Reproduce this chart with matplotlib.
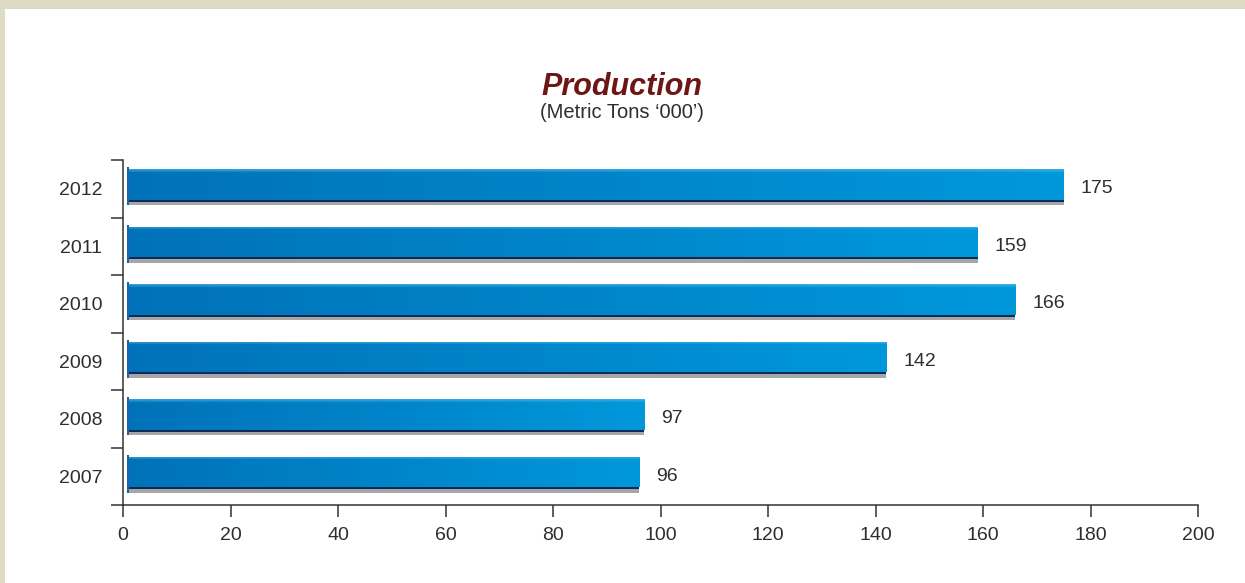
"""
Production bar chart (Metric Tons '000').
"""

import numpy as np
import matplotlib
matplotlib.use("Agg")
import matplotlib.pyplot as plt
import matplotlib.patches as mpatches
from matplotlib.colors import to_rgb

years = ["2007", "2008", "2009", "2010", "2011", "2012"]
production = [96, 97, 142, 166, 159, 175]
xticks = [0, 20, 40, 60, 80, 100, 120, 140, 160, 180, 200]

plt.rcParams["font.family"] = ["Liberation Sans", "DejaVu Sans"]

TEXT = "#2e2e2e"
AXIS = "#333333"

fig = plt.figure(figsize=(12.45, 5.83), dpi=100, facecolor="#dedbc4")
# white panel inside the beige frame
fig.patches.append(mpatches.Rectangle((5 / 1245, 0), 1, 1 - 9 / 583,
                                      transform=fig.transFigure, facecolor="white",
                                      edgecolor="none", zorder=-5))

ax = fig.add_axes([123 / 1245, 78 / 583, 1075 / 1245, 345 / 583])
ax.set_facecolor("none")
ax.set_zorder(2)


def bar_image(n_rows=40, n_cols=256):
    left = np.array(to_rgb("#0072b9"))
    mid = np.array(to_rgb("#0084c9"))
    right = np.array(to_rgb("#0098db"))
    t = np.linspace(0, 1, n_cols)[:, None]
    row = np.where(t < 0.5, left + (mid - left) * (t / 0.5), mid + (right - mid) * ((t - 0.5) / 0.5))
    img = np.repeat(row[None, :, :], n_rows, axis=0)
    # light bevel along the top edge
    img[:2] = img[:2] * 0.45 + 0.55 * np.array(to_rgb("#5cc0ee"))
    img[2:4] = img[2:4] * 0.75 + 0.25 * np.array(to_rgb("#5cc0ee"))
    return img


img = bar_image()
start = 0.7
for i, (yr, val) in enumerate(zip(years, production)):
    top = i + 0.34
    bottom = i - 0.19
    # gray drop shadow and dark edge under the bar
    ax.barh(i - 0.245, val - start, left=start, height=0.09, color="#a4a6a8", zorder=2)
    ax.barh(i - 0.21, val - start, left=start, height=0.04, color="#0f2a55", zorder=3)
    bar = ax.barh((top + bottom) / 2, val - start, left=start, height=top - bottom,
                  color="#0084c9", zorder=4)[0]
    im = ax.imshow(img, extent=[start, val, bottom, top], aspect="auto", zorder=5,
                   interpolation="bilinear")
    im.set_clip_path(bar)
    # curled left end
    ax.barh(i + 0.04, 0.45, left=start, height=0.66, color="#1d63aa", zorder=6)
    ax.text(val + 3.2, i, str(val), ha="left", va="center", fontsize=14, color=TEXT)

ax.set_xlim(0, 200)
ax.set_ylim(-0.5, len(years) - 0.5)

for side in ["top", "right"]:
    ax.spines[side].set_visible(False)
for side in ["left", "bottom"]:
    ax.spines[side].set_color(AXIS)
    ax.spines[side].set_linewidth(1.1)

ax.set_xticks(xticks)
ax.set_xticklabels([str(v) for v in xticks])
ax.tick_params(axis="x", direction="out", length=8.5, width=1.1, color=AXIS,
               labelsize=14, labelcolor=TEXT, pad=7)

ax.set_yticks(np.arange(-0.5, len(years)))
ax.set_yticklabels([])
ax.tick_params(axis="y", which="major", direction="out", length=8.5, width=1.1, color=AXIS)
ax.set_yticks(np.arange(len(years)), minor=True)
ax.set_yticklabels(years, minor=True)
ax.tick_params(axis="y", which="minor", length=0, labelsize=14, labelcolor=TEXT, pad=15)

fig.text(0.4995, 1 - 95 / 583, "Production", ha="center", va="baseline",
         fontsize=22, fontweight="bold", fontstyle="italic", color="#6e1515")
fig.text(0.4995, 1 - 118 / 583, "(Metric Tons \u2018000\u2019)", ha="center", va="baseline",
         fontsize=14.5, color=TEXT)

fig.savefig("out.png", dpi=100, facecolor=fig.get_facecolor())
